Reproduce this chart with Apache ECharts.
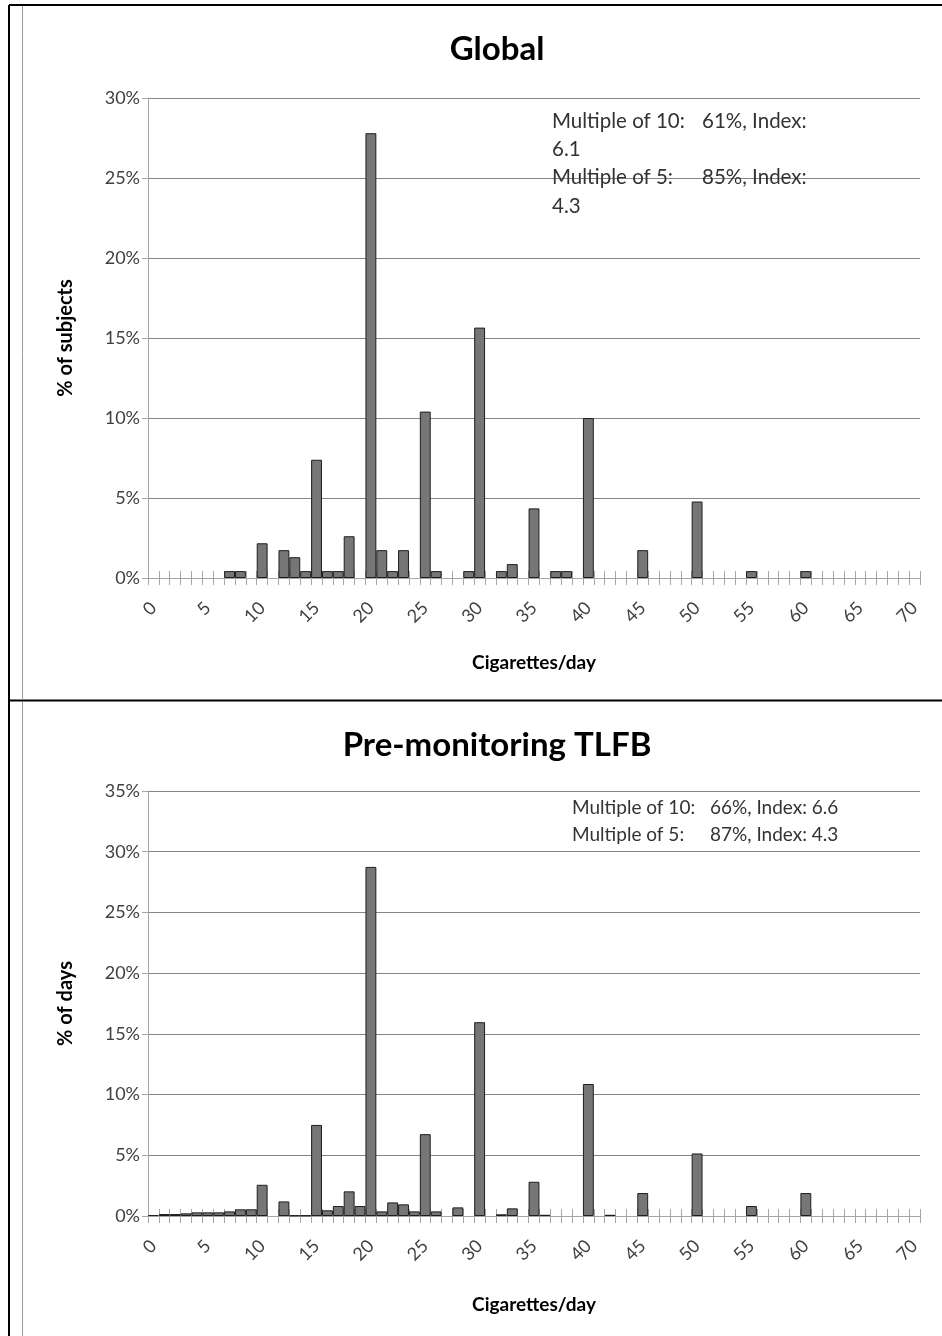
<!DOCTYPE html>
<html><head><meta charset="utf-8">
<script src="https://cdn.jsdelivr.net/npm/echarts@6/dist/echarts.min.js"></script>
<style>html,body{margin:0;padding:0;background:#fff}#c{width:942px;height:1336px}</style>
</head><body><div id="c"></div>
<script>
// Cigarettes/day categories 0..70
const categories = ['0','1','2','3','4','5','6','7','8','9','10','11','12','13','14','15','16','17','18','19','20','21','22','23','24','25','26','27','28','29','30','31','32','33','34','35','36','37','38','39','40','41','42','43','44','45','46','47','48','49','50','51','52','53','54','55','56','57','58','59','60','61','62','63','64','65','66','67','68','69','70'];

// Global: % of subjects
const globalPct = [
  0,0,0,0,0,0,0,0.43,0.43,0,       // 0-9
  2.17,0,1.74,1.3,0.43,7.39,0.43,0.43,2.61,0, // 10-19
  27.8,1.74,0.43,1.74,0,10.4,0.43,0,0,0.43,   // 20-29
  15.65,0,0.43,0.87,0,4.35,0,0.43,0.43,0,     // 30-39
  10.0,0,0,0,0,1.74,0,0,0,0,                  // 40-49
  4.78,0,0,0,0,0.43,0,0,0,0,                  // 50-59
  0.43,0,0,0,0,0,0,0,0,0,0                    // 60-70
];

// Pre-monitoring TLFB: % of days
const tlfbPct = [
  0.08,0.16,0.16,0.22,0.3,0.3,0.3,0.38,0.55,0.55, // 0-9
  2.57,0,1.2,0.05,0.05,7.5,0.47,0.82,2.03,0.82,   // 10-19
  28.75,0.38,1.12,0.96,0.38,6.74,0.38,0,0.71,0,   // 20-29
  15.96,0,0.14,0.63,0,2.82,0.1,0,0,0,             // 30-39
  10.87,0,0.1,0,0,1.89,0,0,0,0,                   // 40-49
  5.15,0,0,0,0,0.82,0,0,0,0,                      // 50-59
  1.89,0,0,0,0,0,0,0,0,0,0                        // 60-70
];

const titles = ['Global', 'Pre-monitoring TLFB'];
const yNames = ['% of subjects', '% of days'];
const xName = 'Cigarettes/day';
const yMax = [30, 35];
const yStep = 5;
const notesGlobal = [['Multiple of 10:', '61%, Index:'], ['6.1', ''], ['Multiple of 5:', '85%, Index:'], ['4.3', '']];
const notesTlfb = [['Multiple of 10:', '66%, Index: 6.6'], ['Multiple of 5:', '87%, Index: 4.3']];

const FONT = 'Lato, "Open Sans", sans-serif';
const AX = '#a6a6a6';
const grids = [
  {left: 148, right: 22, top: 98, height: 480},
  {left: 148, right: 22, top: 791, height: 425}
];
const xNameGap = [75, 79];

const xAxes = [], yAxes = [], series = [], titleArr = [];
grids.forEach((g, i) => {
  xAxes.push({
    type: 'category', gridIndex: i, data: categories, boundaryGap: true,
    axisLine: {lineStyle: {color: AX, width: 1}},
    axisTick: {show: true, interval: 0, length: 7, lineStyle: {color: AX}},
    axisLabel: {interval: 4, rotate: 45, margin: 27, fontSize: 18, fontFamily: FONT, color: '#404040'},
    name: xName, nameLocation: 'middle', nameGap: xNameGap[i],
    nameTextStyle: {fontSize: 19, fontWeight: 'bold', fontFamily: FONT, color: '#000'}
  });
  xAxes.push({
    type: 'category', gridIndex: i, data: categories, boundaryGap: true, position: 'bottom', offset: 0,
    axisLine: {show: false},
    axisTick: {show: true, inside: true, interval: 0, length: 7, lineStyle: {color: AX}},
    axisLabel: {show: false}
  });
  yAxes.push({
    type: 'value', gridIndex: i, min: 0, max: yMax[i], interval: yStep,
    axisLine: {show: true, lineStyle: {color: AX}},
    axisTick: {show: true, length: 6, lineStyle: {color: AX}},
    splitLine: {lineStyle: {color: '#868686', width: 1}},
    axisLabel: {formatter: '{value}%', fontSize: 18, fontFamily: FONT, color: '#404040', margin: 8},
    name: yNames[i], nameLocation: 'middle', nameGap: 72,
    nameTextStyle: {fontSize: 20, fontWeight: 'bold', fontFamily: FONT, color: '#000'}
  });
  const vals = i === 0 ? globalPct : tlfbPct;
  series.push({
    type: 'bar', xAxisIndex: i * 2, yAxisIndex: i,
    data: vals.map(v => v === 0 ? '-' : v),
    barWidth: '100%', barCategoryGap: '0%', barGap: '0%',
    itemStyle: {color: '#767676', borderColor: '#1e1e1e', borderWidth: 1},
    silent: true
  });
  titleArr.push({
    text: titles[i], left: 492, top: i === 0 ? 28 : 724, textAlign: 'center',
    textStyle: {fontSize: 33, fontWeight: 'bold', fontFamily: FONT, color: '#000'}
  });
});

function noteText(lines, x, y0, dy, fs, w) {
  return lines.map((ln, k) => ({
    type: 'text', x: x, y: y0 + k * dy, z: 10,
    style: {
      text: '{a|' + ln[0] + '}' + (ln[1] ? '{b|' + ln[1] + '}' : ''),
      verticalAlign: 'middle', fill: '#333',
      rich: {
        a: {fontSize: fs, fontFamily: FONT, fill: '#333', width: ln[1] ? w : undefined},
        b: {fontSize: fs, fontFamily: FONT, fill: '#333'}
      }
    }
  }));
}

const graphics = [
  {type: 'line', shape: {x1: 9, y1: 5, x2: 9, y2: 1336}, style: {stroke: '#000', lineWidth: 2}},
  {type: 'line', shape: {x1: 9, y1: 5, x2: 942, y2: 5}, style: {stroke: '#000', lineWidth: 2}},
  {type: 'line', shape: {x1: 9, y1: 700.5, x2: 942, y2: 700.5}, style: {stroke: '#000', lineWidth: 2}},
  {type: 'line', shape: {x1: 22.5, y1: 6, x2: 22.5, y2: 699}, style: {stroke: '#999', lineWidth: 1}},
  {type: 'line', shape: {x1: 22.5, y1: 702, x2: 22.5, y2: 1336}, style: {stroke: '#999', lineWidth: 1}}
].concat(noteText(notesGlobal, 552, 121, 28.3, 20.5, 150))
 .concat(noteText(notesTlfb, 572, 808, 27, 19, 138));

const chart = echarts.init(document.getElementById('c'), null, {renderer: 'canvas'});
chart.setOption({
  backgroundColor: '#fff',
  animation: false,
  title: titleArr,
  grid: grids,
  xAxis: xAxes,
  yAxis: yAxes,
  series: series,
  graphic: graphics
});
</script>
</body></html>
